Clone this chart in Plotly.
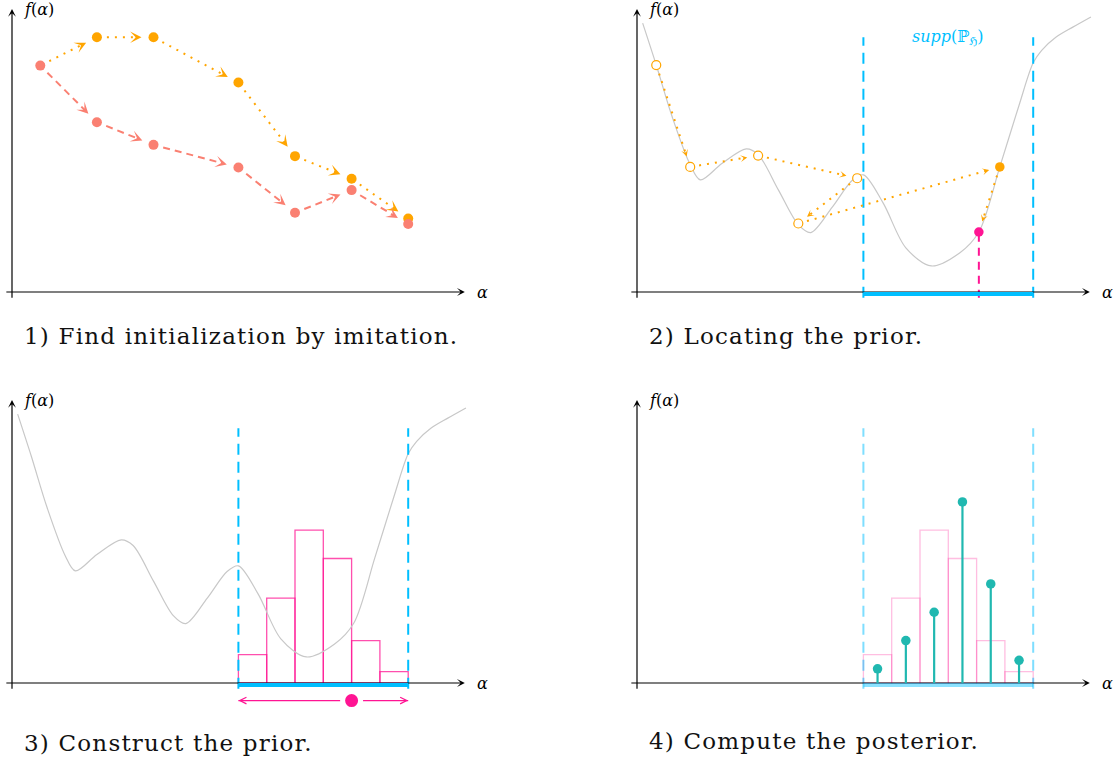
import math
import plotly.graph_objects as go

W, H = 1120, 763
U = 56.6  # pixels per data unit (same on both axes)

ORANGE = "#FFA500"
SALMON = "#FA8072"
PINK = "#FF1493"
BLUE = "#00BFFF"
TEAL = "#20B8B0"
GRAY = "#C8C8C8"
FONT = "DejaVu Serif, Liberation Serif, serif"

# ---------------- data ----------------
# Panel 1: imitation trajectories
imit_x = [0.5, 1.5, 2.5, 4.0, 5.0, 6.0, 7.0]
orange_y = [4.0, 4.5, 4.5, 3.7, 2.4, 2.0, 1.3]
salmon_y = [4.0, 3.0, 2.6, 2.2, 1.4, 1.8, 1.2]

# Objective curve f(alpha) (panels 2 and 3)
curve_x = [0.10, 0.34, 0.62, 0.94, 1.12, 1.50, 1.93, 2.14, 2.50, 2.85, 3.07, 3.45,
           3.80, 4.00, 4.35, 4.75, 5.20, 5.70, 6.04, 6.41, 6.75, 7.00, 7.15, 7.40,
           7.70, 8.02]
curve_y = [4.75, 4.01, 3.10, 2.25, 1.98, 2.27, 2.53, 2.43, 1.80, 1.19, 1.05, 1.50,
           1.97, 2.07, 1.57, 0.78, 0.46, 0.69, 1.06, 2.21, 3.30, 4.05, 4.27, 4.50,
           4.68, 4.86]

# Panel 2: search path (open circles, then found point, then sample)
path_x = [0.34, 0.94, 2.14, 3.89, 2.85, 6.41, 6.04]
path_y = [4.01, 2.21, 2.41, 2.01, 1.21, 2.21, 1.06]
supp_lo, supp_hi = 4.0, 7.0
supp_top = 4.5

# Panel 3: prior histogram
bin_edges = [4.0, 4.5, 5.0, 5.5, 6.0, 6.5, 7.0]
prior_h = [0.5, 1.5, 2.7, 2.2, 0.75, 0.2]
draw_x, draw_y = 6.0, -0.31

# Panel 4: posterior
post_h = [0.25, 0.75, 1.25, 3.2, 1.75, 0.4]

captions = ["1) Find initialization by imitation.", "2) Locating the prior.",
            "3) Construct the prior.", "4) Compute the posterior."]
caption_y = [-0.78, -0.78, -1.06, -1.02]
axis_x_end, axis_y_end = 8.0, 5.0

# ---------------- layout geometry ----------------
panels = [
    dict(ox=12, oy=292, box=(0, 560, 0, 381.5)),
    dict(ox=637, oy=292, box=(560, 1120, 0, 381.5)),
    dict(ox=12, oy=683, box=(0, 560, 381.5, 763)),
    dict(ox=637, oy=683, box=(560, 1120, 381.5, 763)),
]

fig = go.Figure()
annotations = []
layout = dict(width=W, height=H, margin=dict(l=0, r=0, t=0, b=0),
              paper_bgcolor="white", plot_bgcolor="white", showlegend=False,
              barmode="overlay")

for i, p in enumerate(panels, start=1):
    x0, x1, y0, y1 = p["box"]
    sx = "" if i == 1 else str(i)
    layout["xaxis" + sx] = dict(domain=[x0 / W, x1 / W],
                                range=[(x0 - p["ox"]) / U, (x1 - p["ox"]) / U],
                                visible=False, fixedrange=True, anchor="y" + sx)
    layout["yaxis" + sx] = dict(domain=[1 - y1 / H, 1 - y0 / H],
                                range=[(p["oy"] - y1) / U, (p["oy"] - y0) / U],
                                visible=False, fixedrange=True, anchor="x" + sx)


def refs(i):
    s = "" if i == 1 else str(i)
    return "x" + s, "y" + s


def line(i, xs, ys, color, width=1.5, dash=None, opacity=1.0, shape="linear"):
    xr, yr = refs(i)
    fig.add_trace(go.Scatter(x=xs, y=ys, mode="lines", xaxis=xr, yaxis=yr,
                             opacity=opacity, hoverinfo="skip",
                             line=dict(color=color, width=width, dash=dash,
                                       shape=shape, smoothing=0.9)))


def dots(i, xs, ys, color, size, open_=False, lw=1.2, outline=None, olw=0):
    xr, yr = refs(i)
    if open_:
        marker = dict(color="white", size=size, line=dict(color=color, width=lw))
    else:
        marker = dict(color=color, size=size,
                      line=dict(color=outline or color, width=olw))
    fig.add_trace(go.Scatter(x=xs, y=ys, mode="markers", xaxis=xr, yaxis=yr,
                             hoverinfo="skip", marker=marker))


def head(i, tx, ty, ux, uy, color, scale, style=3):
    """arrow head only, tip at (tx,ty), pointing along (ux,uy)"""
    xr, yr = refs(i)
    L = (1.6 * scale + 3) if style == 3 else 6 * scale
    annotations.append(dict(x=tx, y=ty, xref=xr, yref=yr, text="", showarrow=True,
                            ax=-ux * L, ay=uy * L, arrowhead=style, arrowsize=scale,
                            arrowwidth=1, arrowcolor=color, standoff=0,
                            borderpad=0, font=dict(size=1)))


def seg(i, p, q, color, dash, width, s0, gap, scale):
    dx, dy = q[0] - p[0], q[1] - p[1]
    L = math.hypot(dx, dy)
    ux, uy = dx / L, dy / L
    a = (p[0] + ux * s0 / U, p[1] + uy * s0 / U)
    b = (q[0] - ux * (gap + 3) / U, q[1] - uy * (gap + 3) / U)
    line(i, [a[0], b[0]], [a[1], b[1]], color, width, dash)
    head(i, q[0] - ux * gap / U, q[1] - uy * gap / U, ux, uy, color, scale)


def axes(i, top=axis_y_end, right=axis_x_end):
    line(i, [-0.1, right - 0.05], [0, 0], "black", 1.2)
    line(i, [0, 0], [-0.1, top - 0.05], "black", 1.2)
    head(i, right, 0, 1, 0, "black", 1.3)
    head(i, 0, top, 0, 1, "black", 1.3)
    xr, yr = refs(i)
    annotations.append(dict(x=0.18, y=top, xref=xr, yref=yr, xanchor="left",
                            yanchor="middle", showarrow=False,
                            text="<i>f</i>(<i>α</i>)",
                            font=dict(family=FONT, size=16, color="black")))
    annotations.append(dict(x=right + 0.18, y=0, xref=xr, yref=yr, xanchor="left",
                            yanchor="middle", showarrow=False, text="<i>α</i>",
                            font=dict(family=FONT, size=16, color="black")))


def caption(i):
    xr, yr = refs(i)
    annotations.append(dict(x=0.18, y=caption_y[i - 1], xref=xr, yref=yr,
                            xanchor="left", yanchor="middle", showarrow=False,
                            text='<span style="letter-spacing:1.2px">'
                                 + captions[i - 1] + "</span>",
                            font=dict(family=FONT, size=23, color="#111")))


def supp_lines(i, color, opacity=1.0):
    for xv in (supp_lo, supp_hi):
        line(i, [xv, xv], [-0.1, supp_top], color, 2, "11px,7px", opacity)


def supp_base(i, opacity=1.0):
    line(i, [supp_lo, supp_hi], [-0.035, -0.035], BLUE, 4, None, opacity)


centers = [(bin_edges[k] + bin_edges[k + 1]) / 2 for k in range(len(prior_h))]
widths = [bin_edges[k + 1] - bin_edges[k] for k in range(len(prior_h))]


def hist(i, color):
    xr, yr = refs(i)
    fig.add_trace(go.Bar(x=centers, y=prior_h, width=widths, xaxis=xr, yaxis=yr,
                         hoverinfo="skip",
                         marker=dict(color="rgba(255,255,255,0)",
                                     line=dict(color=color, width=1.3))))


# ---------------- Panel 1 ----------------
axes(1)
for k in range(len(imit_x) - 1):
    seg(1, (imit_x[k], orange_y[k]), (imit_x[k + 1], orange_y[k + 1]), ORANGE,
        "2px,6px", 2, 10, 12, 1.9)
    seg(1, (imit_x[k], salmon_y[k]), (imit_x[k + 1], salmon_y[k + 1]), SALMON,
        "7px,5px", 2, 10, 12, 1.9)
dots(1, imit_x[1:], orange_y[1:], ORANGE, 10)
dots(1, imit_x, salmon_y, SALMON, 10)
caption(1)

# ---------------- Panel 2 ----------------
line(2, curve_x, curve_y, GRAY, 1.2, shape="spline")
line(2, [path_x[-1], path_x[-1]], [-0.1, path_y[-1]], PINK, 2, "8px,6px")
supp_lines(2, BLUE)
axes(2)
supp_base(2)
for k in range(len(path_x) - 1):
    seg(2, (path_x[k], path_y[k]), (path_x[k + 1], path_y[k + 1]), ORANGE,
        "2px,6px", 2, 9, 11, 1.15)
dots(2, path_x[:5], path_y[:5], ORANGE, 9, open_=True)
dots(2, [path_x[5]], [path_y[5]], ORANGE, 9.5)
dots(2, [path_x[6]], [path_y[6]], PINK, 9.5)
annotations.append(dict(x=(supp_lo + supp_hi) / 2, y=supp_top, xref="x2", yref="y2",
                        xanchor="center", yanchor="middle", showarrow=False,
                        text="<i>supp</i>(ℙ<sub>ℌ</sub>)",
                        font=dict(family=FONT, size=16, color=BLUE)))
caption(2)

# ---------------- Panel 3 ----------------
line(3, curve_x, curve_y, GRAY, 1.2, shape="spline")
hist(3, "rgba(255,20,147,0.75)")
supp_lines(3, BLUE)
axes(3)
supp_base(3)
line(3, [supp_lo, supp_hi], [draw_y, draw_y], PINK, 1.2)
dots(3, [draw_x], [draw_y], PINK, 18, outline="white", olw=5)
head(3, supp_hi, draw_y, 1, 0, PINK, 1.3, style=5)
head(3, supp_lo, draw_y, -1, 0, PINK, 1.3, style=5)
caption(3)

# ---------------- Panel 4 ----------------
hist(4, "rgba(255,20,147,0.28)")
supp_lines(4, BLUE, 0.5)
axes(4)
supp_base(4, 0.45)
stem_x, stem_y = [], []
for c, h in zip(centers, post_h):
    stem_x += [c, c, None]
    stem_y += [0, h, None]
line(4, stem_x, stem_y, TEAL, 2.2)
dots(4, centers, post_h, TEAL, 9.5)
caption(4)

layout["annotations"] = annotations
fig.update_layout(**layout)
fig.write_html("out.html")
